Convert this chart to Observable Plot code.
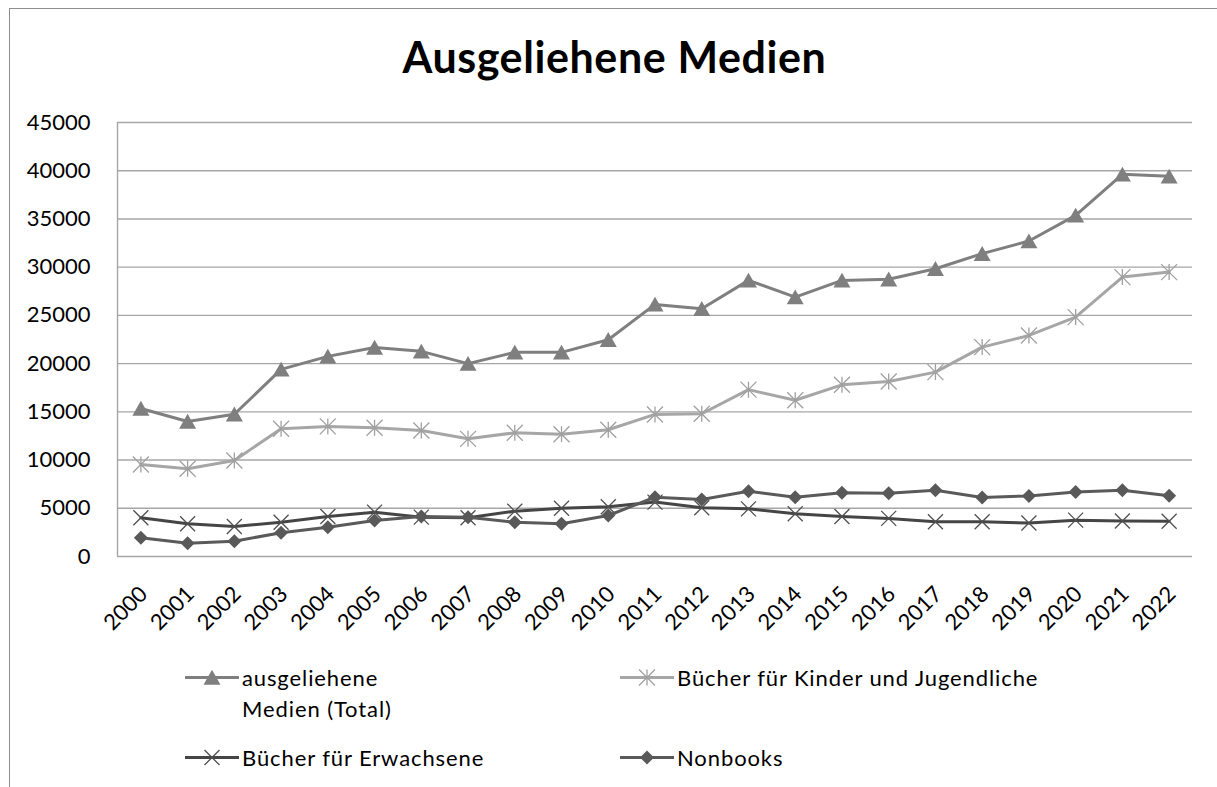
<!DOCTYPE html>
<html>
<head>
<meta charset="utf-8">
<script src="https://cdn.jsdelivr.net/npm/d3@7"></script>
<script src="https://cdn.jsdelivr.net/npm/@observablehq/plot@0.6"></script>
<style>
  html, body { margin: 0; padding: 0; background: #fff; }
  body { font-family: Lato, "Open Sans", sans-serif; color: #000; }
  #frame { position: absolute; left: 9px; top: 8px; width: 1400px; height: 1000px;
           border-top: 1.5px solid #8e8e8e; border-left: 1.5px solid #8e8e8e; pointer-events: none; }
  #wrap { position: relative; width: 1217px; }
  #title { height: 100px; box-sizing: border-box; padding-top: 34px; padding-left: 12px;
           text-align: center; font-size: 43px; font-weight: 700; line-height: 46px; letter-spacing: 0.6px; color: #000; }
  #chart svg { display: block; }
  #legend { position: relative; height: 127px; font-size: 22px; line-height: 31px; letter-spacing: 0.9px; }
  .item { position: absolute; display: flex; align-items: flex-start; }
  .item svg { display: block; flex: none; }
  .item .lbl { margin-left: 3px; white-space: nowrap; }
</style>
</head>
<body>
<div id="frame"></div>
<div id="wrap">
  <div id="title">Ausgeliehene Medien</div>
  <div id="chart"></div>
  <div id="legend"></div>
</div>
<script>
// ---- data ----
const years = [2000, 2001, 2002, 2003, 2004, 2005, 2006, 2007, 2008, 2009, 2010, 2011,
               2012, 2013, 2014, 2015, 2016, 2017, 2018, 2019, 2020, 2021, 2022];
const total = [15350, 14000, 14750, 19400, 20750, 21680, 21270, 20000, 21170, 21170, 22480, 26140,
               25690, 28630, 26900, 28630, 28750, 29840, 31400, 32710, 35370, 39630, 39420];
const kids = [9540, 9100, 9960, 13250, 13490, 13350, 13070, 12200, 12830, 12680, 13140, 14730,
              14800, 17300, 16200, 17800, 18150, 19120, 21710, 22920, 24820, 28970, 29490];
const adults = [4010, 3390, 3110, 3560, 4150, 4600, 4080, 4010, 4700, 5000, 5150, 5640,
                5050, 4940, 4430, 4150, 3950, 3600, 3600, 3470, 3770, 3680, 3650];
const nonbooks = [1940, 1380, 1590, 2460, 3040, 3730, 4150, 4080, 3560, 3390, 4250, 6150,
                  5910, 6770, 6150, 6600, 6550, 6880, 6120, 6280, 6700, 6880, 6300];
const yTicks = [0, 5000, 10000, 15000, 20000, 25000, 30000, 35000, 40000, 45000];
const seriesNames = ["ausgeliehene Medien (Total)", "Bücher für Kinder und Jugendliche",
                     "Bücher für Erwachsene", "Nonbooks"];

// ---- custom Excel-like marker symbols ----
const symTriangle = { draw(ctx, size) { const r = Math.sqrt(size / Math.PI);
  ctx.moveTo(0, -0.9 * r); ctx.lineTo(r, 0.85 * r); ctx.lineTo(-r, 0.85 * r); ctx.closePath(); } };
const symStar = { draw(ctx, size) { const r = Math.sqrt(size / Math.PI);
  ctx.moveTo(0, -r); ctx.lineTo(0, r); ctx.moveTo(-r, -r); ctx.lineTo(r, r);
  ctx.moveTo(-r, r); ctx.lineTo(r, -r); } };
const symX = { draw(ctx, size) { const r = Math.sqrt(size / Math.PI);
  ctx.moveTo(-r, -r); ctx.lineTo(r, r); ctx.moveTo(-r, r); ctx.lineTo(r, -r); } };
const symDiamond = { draw(ctx, size) { const r = Math.sqrt(size / Math.PI);
  ctx.moveTo(0, -r); ctx.lineTo(r, 0); ctx.lineTo(0, r); ctx.lineTo(-r, 0); ctx.closePath(); } };

const styles = [
  { values: total,    color: "#7f7f7f", symbol: symTriangle, r: 8.5, fill: "#7f7f7f", stroke: "none", sw: 0 },
  { values: kids,     color: "#a6a6a6", symbol: symStar,     r: 8,   fill: "none",    stroke: "#a0a0a0", sw: 1.3 },
  { values: adults,   color: "#454545", symbol: symX,        r: 7.5, fill: "none",    stroke: "#505050", sw: 1.3 },
  { values: nonbooks, color: "#5a5a5a", symbol: symDiamond,  r: 7,   fill: "#595959", stroke: "none", sw: 0 }
];

const seriesMarks = [];
styles.forEach((s, i) => {
  const rows = years.map((y, j) => ({ year: y, value: s.values[j], series: seriesNames[i] }));
  seriesMarks.push(Plot.line(rows, { x: "year", y: "value", stroke: s.color, strokeWidth: 3, strokeLinejoin: "round" }));
  seriesMarks.push(Plot.dot(rows, { x: "year", y: "value", symbol: s.symbol, r: s.r,
    fill: s.fill, stroke: s.stroke, strokeWidth: s.sw }));
});

const xDomain = [years[0] - 0.5, years[years.length - 1] + 0.5];

const chart = Plot.plot({
  width: 1217,
  height: 560,
  marginTop: 22,
  marginBottom: 104,
  marginLeft: 117,
  marginRight: 25,
  style: { fontFamily: "Lato, 'Open Sans', sans-serif", fontSize: "22px", color: "#000", background: "transparent" },
  x: { type: "linear", domain: xDomain, label: null },
  y: { domain: [0, 45000], label: null },
  marks: [
    Plot.ruleY(yTicks, { stroke: "#a6a6a6", strokeWidth: 1.4 }),
    Plot.ruleX([xDomain[0]], { stroke: "#a6a6a6", strokeWidth: 1.4 }),
    Plot.axisY(yTicks, { tickSize: 0, tickPadding: 27, fontSize: 22, tickFormat: d => String(d), fill: "#000" }),
    Plot.axisX(years, { tickSize: 0, tickRotate: -45, tickPadding: 34, dx: 3, fontSize: 22, tickFormat: d => String(d), fill: "#000" }),
    ...seriesMarks
  ]
});
document.getElementById("chart").appendChild(chart);

// ---- legend ----
const legendPos = [
  { left: 185, top: 1.5 },
  { left: 620, top: 1.5 },
  { left: 185, top: 81.5 },
  { left: 620, top: 81.5 }
];
const labelsHtml = ["ausgeliehene<br>Medien (Total)", "Bücher für Kinder und Jugendliche",
                    "Bücher für Erwachsene", "Nonbooks"];
const legend = document.getElementById("legend");
styles.forEach((s, i) => {
  const item = document.createElement("div");
  item.className = "item";
  item.style.left = legendPos[i].left + "px";
  item.style.top = legendPos[i].top + "px";
  const W = 54, H = 31, cy = 15.5, cx = 27;
  const size = Math.PI * s.r * s.r;
  const path = d3.path();
  s.symbol.draw(path, size);
  item.innerHTML =
    `<svg width="${W}" height="${H}">` +
    `<line x1="0" x2="${W}" y1="${cy}" y2="${cy}" stroke="${s.color}" stroke-width="3"/>` +
    `<path transform="translate(${cx},${cy})" d="${path.toString()}" fill="${s.fill}" stroke="${s.stroke}" stroke-width="${s.sw}"/>` +
    `</svg><div class="lbl">${labelsHtml[i]}</div>`;
  legend.appendChild(item);
});
</script>
</body>
</html>
